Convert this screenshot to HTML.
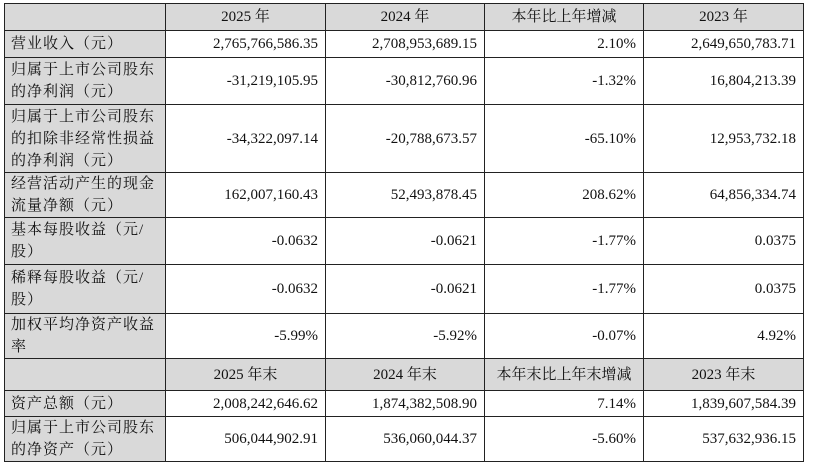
<!DOCTYPE html>
<html><head><meta charset="utf-8"><style>
html,body{margin:0;padding:0;background:#fff;width:813px;height:468px;overflow:hidden}
table{position:absolute;left:4px;top:3px;border-collapse:collapse;table-layout:fixed;font-family:"Liberation Serif","Noto Serif CJK SC",serif;font-size:15px;color:#111}
td{border:1px solid #222;padding:0 7px;line-height:22px;vertical-align:middle;overflow:hidden}
td.l{background:#d9d9d9;text-align:left;padding-left:6px;letter-spacing:1px}
td.r{text-align:right}
tr.h td{background:#d9d9d9;text-align:center}
</style></head><body>
<table>
<colgroup><col style="width:161px"><col style="width:160px"><col style="width:159px"><col style="width:159px"><col style="width:160px"></colgroup>
<tr class="h" style="height:27px"><td></td><td>2025 年</td><td>2024 年</td><td>本年比上年增减</td><td>2023 年</td></tr>
<tr style="height:27px"><td class="l">营业收入（元）</td><td class="r">2,765,766,586.35</td><td class="r">2,708,953,689.15</td><td class="r">2.10%</td><td class="r">2,649,650,783.71</td></tr>
<tr style="height:47px"><td class="l">归属于上市公司股东的净利润（元）</td><td class="r">-31,219,105.95</td><td class="r">-30,812,760.96</td><td class="r">-1.32%</td><td class="r">16,804,213.39</td></tr>
<tr style="height:68px"><td class="l">归属于上市公司股东的扣除非经常性损益的净利润（元）</td><td class="r">-34,322,097.14</td><td class="r">-20,788,673.57</td><td class="r">-65.10%</td><td class="r">12,953,732.18</td></tr>
<tr style="height:44px"><td class="l">经营活动产生的现金流量净额（元）</td><td class="r">162,007,160.43</td><td class="r">52,493,878.45</td><td class="r">208.62%</td><td class="r">64,856,334.74</td></tr>
<tr style="height:47px"><td class="l">基本每股收益（元/股）</td><td class="r">-0.0632</td><td class="r">-0.0621</td><td class="r">-1.77%</td><td class="r">0.0375</td></tr>
<tr style="height:49px"><td class="l">稀释每股收益（元/股）</td><td class="r">-0.0632</td><td class="r">-0.0621</td><td class="r">-1.77%</td><td class="r">0.0375</td></tr>
<tr style="height:45px"><td class="l">加权平均净资产收益率</td><td class="r">-5.99%</td><td class="r">-5.92%</td><td class="r">-0.07%</td><td class="r">4.92%</td></tr>
<tr class="h" style="height:32px"><td></td><td>2025 年末</td><td>2024 年末</td><td>本年末比上年末增减</td><td>2023 年末</td></tr>
<tr style="height:26px"><td class="l">资产总额（元）</td><td class="r">2,008,242,646.62</td><td class="r">1,874,382,508.90</td><td class="r">7.14%</td><td class="r">1,839,607,584.39</td></tr>
<tr style="height:45px"><td class="l">归属于上市公司股东的净资产（元）</td><td class="r">506,044,902.91</td><td class="r">536,060,044.37</td><td class="r">-5.60%</td><td class="r">537,632,936.15</td></tr>
</table>
</body></html>
